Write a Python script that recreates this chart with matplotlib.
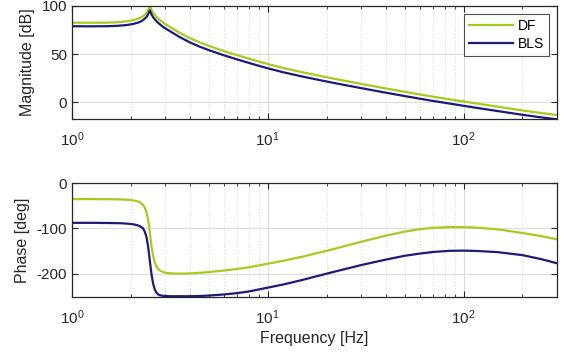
import numpy as np
import matplotlib
matplotlib.use("Agg")
import matplotlib.pyplot as plt
from matplotlib.ticker import LogLocator, NullFormatter

plt.rcParams['font.family'] = ['Liberation Sans', 'DejaVu Sans']
plt.rcParams['mathtext.fontset'] = 'custom'
plt.rcParams['mathtext.rm'] = 'Liberation Sans'
plt.rcParams['mathtext.it'] = 'Liberation Sans'
plt.rcParams['axes.unicode_minus'] = False

# magnitude response
f_mag = [1, 1.2, 1.5, 1.7, 1.9, 2.05, 2.2, 2.3, 2.4, 2.45, 2.5, 2.55, 2.6, 2.7, 2.8,
         2.9, 3.0, 3.2, 3.55, 4.0, 4.5, 5, 5.5, 6, 7, 8, 9, 10, 12, 15, 20, 25, 30,
         40, 50, 60, 70, 85, 100, 120, 150, 200, 250, 300]
mag_df = [82.5, 82.4, 82.5, 82.9, 83.8, 85, 86.8, 89, 92.5, 95.5, 100, 95.5, 92.5,
          88.5, 85.5, 83, 81, 77.5, 72, 66.5, 62, 58.5, 55.6, 53, 48.8, 45.3, 42.3,
          39.7, 35.6, 31.2, 26, 22.2, 19.2, 14.5, 11, 8.2, 5.9, 3.2, 1, -1.5, -4.5,
          -8.3, -11, -13]
mag_bls = [78.8, 78.7, 78.8, 79.2, 80, 81.1, 82.8, 84.9, 88.2, 91.1, 95.3, 91, 88,
           84.1, 81.1, 78.6, 76.6, 73.1, 67.6, 62.1, 57.6, 54.1, 51.2, 48.6, 44.4,
           40.9, 37.9, 35.3, 31.2, 26.8, 21.6, 17.8, 14.8, 10.1, 6.6, 3.8, 1.5, -1.2,
           -3.5, -6, -9, -12.8, -15.5, -17.5]

# phase response
f_ph = [1, 1.3, 1.6, 1.8, 2.0, 2.1, 2.2, 2.3, 2.35, 2.4, 2.45, 2.5, 2.55, 2.6, 2.65,
        2.7, 2.75, 2.8, 2.9, 3.0, 3.2, 3.5, 4, 4.5, 5, 6, 7, 8, 10, 12, 15, 20, 25,
        30, 40, 50, 60, 70, 85, 100, 120, 150, 200, 250, 300]
ph_df = [-35, -35, -35.3, -35.8, -37, -38.5, -41, -47, -53, -63, -80, -110, -140,
         -161, -175, -184, -189, -192.5, -196, -198, -199.5, -200, -199.5, -198,
         -196.5, -193, -189.5, -186, -178, -171.5, -162.5, -149.5, -138.5, -129.5,
         -116, -107, -101.5, -98.5, -97, -97, -98.5, -102, -110, -117, -124]
ph_bls = [-87.5, -87.5, -88, -88.5, -90, -91.5, -94, -99, -106, -118, -140, -172,
          -202, -223, -235, -242, -245.5, -247.5, -249, -249.5, -250, -250, -250,
          -249.5, -248.5, -246, -243, -239.5, -231, -224, -214, -200, -189.5, -181,
          -169, -160.5, -155.5, -152, -149.5, -149, -150, -152.5, -159, -168, -177]

c_df = '#a3cc1c'
c_bls = '#1b1b78'
axc = '#262626'

fig = plt.figure(figsize=(5.62, 3.58), dpi=100)
ax1 = fig.add_axes([0.128, 0.668, 0.863, 0.316])
ax2 = fig.add_axes([0.128, 0.170, 0.863, 0.318])

def style(ax):
    ax.set_xscale('log')
    ax.set_xlim(1, 300)
    ax.xaxis.set_major_locator(LogLocator(base=10, numticks=10))
    ax.xaxis.set_minor_locator(LogLocator(base=10, subs=np.arange(2, 10), numticks=20))
    ax.xaxis.set_minor_formatter(NullFormatter())
    ax.grid(True, which='major', color='#dcdcdc', lw=0.8, ls='-')
    ax.grid(True, which='minor', color='#c8c8c8', lw=0.6, ls=(0, (1, 2.5)))
    ax.set_axisbelow(True)
    ax.tick_params(which='both', direction='in', top=True, right=True, colors=axc,
                   labelsize=11)
    ax.tick_params(which='major', length=4, width=0.8)
    ax.tick_params(which='minor', length=2.5, width=0.6)
    ax.tick_params(axis='x', which='major', pad=8)
    for s in ax.spines.values():
        s.set_color(axc)
        s.set_linewidth(0.9)

ax1.plot(f_mag, mag_df, color=c_df, lw=1.6, label='DF')
ax1.plot(f_mag, mag_bls, color=c_bls, lw=1.6, label='BLS')
style(ax1)
ax1.set_ylim(-17, 100)
ax1.set_yticks([0, 50, 100])
ax1.set_ylabel('Magnitude [dB]', fontsize=11.5, color=axc, labelpad=5)
leg = ax1.legend(loc='upper right', fontsize=10, frameon=True, fancybox=False,
                 edgecolor=axc, handlelength=3.2, borderaxespad=0.6,
                 handletextpad=0.3, borderpad=0.35, labelspacing=0.3)
leg.get_frame().set_linewidth(0.8)

ax2.plot(f_ph, ph_df, color=c_df, lw=1.6)
ax2.plot(f_ph, ph_bls, color=c_bls, lw=1.6)
style(ax2)
ax2.set_ylim(-252, 0)
ax2.set_yticks([-200, -100, 0])
ax2.set_ylabel('Phase [deg]', fontsize=11.5, color=axc, labelpad=5)
ax2.set_xlabel('Frequency [Hz]', fontsize=11.5, color=axc, labelpad=3)

fig.savefig('out.png', dpi=100)
